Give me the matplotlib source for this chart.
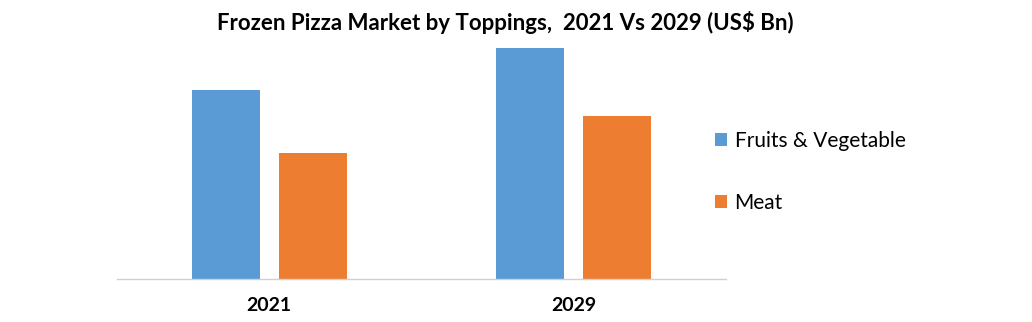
import matplotlib
matplotlib.use("Agg")
import matplotlib.pyplot as plt
import numpy as np
from matplotlib.patches import Patch

categories = ["2021", "2029"]
series_names = ["Fruits & Vegetable", "Meat"]
fruits_veg = [18.9, 23.1]
meat = [12.6, 16.3]
colors = ["#5B9BD5", "#ED7D31"]

FONT = ['Lato', 'DejaVu Sans']

fig = plt.figure(figsize=(10.32, 3.22), dpi=100)
ax = fig.add_axes([117/1032, 43/322, 609/1032, 239/322])

x = np.arange(len(categories))
w = 0.223
off = 0.143
ax.bar(x - off, fruits_veg, w, color=colors[0], zorder=2)
ax.bar(x + off, meat, w, color=colors[1], zorder=2)

ax.set_xlim(-0.5, 1.5)
ax.set_ylim(0, 23.9)
ax.set_yticks([])
ax.set_xticks(x)
ax.set_xticklabels(categories, fontsize=14, fontweight='bold', family=FONT)
ax.tick_params(axis='x', length=0, pad=13)
for s in ['top', 'right', 'left']:
    ax.spines[s].set_visible(False)
ax.spines['bottom'].set_color('#D0D0D0')
ax.spines['bottom'].set_linewidth(1)

fig.text(505/1032, 1 - 22/322, "Frozen Pizza Market by Toppings,  2021 Vs 2029 (US$ Bn)",
         ha='center', va='center', fontsize=16, fontweight='bold', family=FONT)

handles = [Patch(facecolor=c, edgecolor='none') for c in colors]
leg = fig.legend(handles, series_names, loc='center left',
                 bbox_to_anchor=(715/1032, 1 - 172/322), frameon=False,
                 prop={'family': FONT, 'size': 15}, borderpad=0, borderaxespad=0,
                 handlelength=0.58, handleheight=0.58, handletextpad=0.36,
                 labelspacing=2.0)

fig.savefig("out.png", dpi=100)
